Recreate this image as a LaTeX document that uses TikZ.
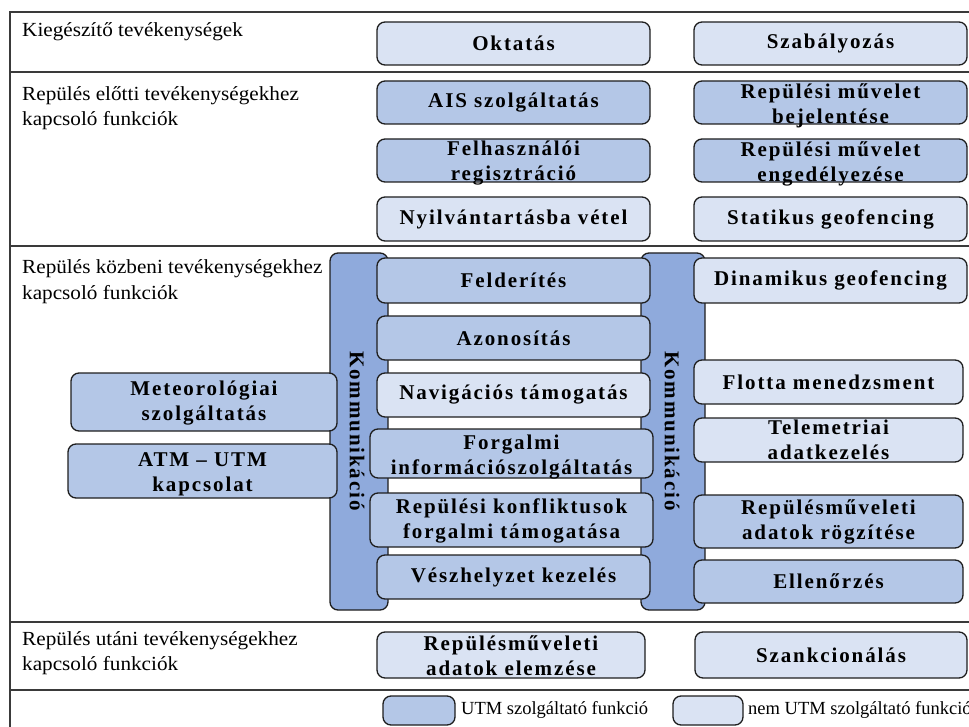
\documentclass[tikz,border=0pt]{standalone}
\usepackage{fontspec}
\setmainfont{Liberation Serif}
\newfontfamily\boxfont{Liberation Serif}[LetterSpace=9, Ligatures=TeX]
\newfontfamily\labelfont{Liberation Serif}[FakeStretch=1.06]

\definecolor{lightfill}{HTML}{DAE3F3}
\definecolor{midfill}{HTML}{B4C7E7}
\definecolor{barfill}{HTML}{8FAADC}
\definecolor{boxline}{HTML}{1E1E1E}
\definecolor{frameline}{HTML}{3A3A3A}

\tikzset{
  fnbase/.style={draw=boxline, line width=1.3pt, rounded corners=8pt, inner sep=0pt},
  utm/.style={fnbase, fill=midfill},
  nonutm/.style={fnbase, fill=lightfill},
  fntext/.style={inner sep=0pt, align=center,
    font=\boxfont\bfseries\fontsize{21}{25}\selectfont},
  commbar/.style={draw=boxline, line width=1.3pt, rounded corners=8pt, fill=barfill, inner sep=0pt},
  commtext/.style={inner sep=0pt, rotate=-90, font=\boxfont\bfseries\fontsize{21}{25}\selectfont},
  rowlabel/.style={anchor=base west, inner sep=0pt, font=\labelfont\fontsize{20}{25}\selectfont},
  legtext/.style={anchor=west, inner sep=0pt, font=\fontsize{18.5}{22}\selectfont},
  sepline/.style={draw=frameline, line width=1.6pt},
}

% box from corner (x1,y1) to (x2,y2), y grows downwards;
% optional first argument moves the caption down by that many points
\newcommand{\fnbox}[8][0]{%
  \node[#3, minimum width={#6-#4}, minimum height={#7-#5}] (#2)
    at ({(#4+#6)/2},{(#5+#7)/2}) {};
  \node[fntext, yshift={-(#1)*1pt}] (#2-t) at (#2.center) {#8};}

\begin{document}
\begin{tikzpicture}[x=1pt, y=-1pt]
\useasboundingbox (0,0) rectangle (969,727);

% frame and section separators
\draw[sepline] (969,12) -- (10,12) -- (10,727);
\foreach \yy in {72,246,622,690}
  \draw[sepline] (10,\yy) -- (969,\yy);

% row labels
\node[rowlabel] (l1)  at (22,37)  {Kiegészítő tevékenységek};
\node[rowlabel] (l2a) at (22,101) {Repülés előtti tevékenységekhez};
\node[rowlabel] (l2b) at (22,126) {kapcsoló funkciók};
\node[rowlabel] (l3a) at (22,274) {Repülés közbeni tevékenységekhez};
\node[rowlabel] (l3b) at (22,299) {kapcsoló funkciók};
\node[rowlabel] (l4a) at (22,645) {Repülés utáni tevékenységekhez};
\node[rowlabel] (l4b) at (22,670) {kapcsoló funkciók};

% supplementary activities
\fnbox{okt}{nonutm}{377}{22}{650}{65}{Oktatás}
\fnbox{szab}{nonutm}{694}{22}{967}{65}{Szabályozás}

% pre-flight functions
\fnbox{ais}{utm}{377}{81}{650}{124}{AIS szolgáltatás}
\fnbox[3]{felh}{utm}{377}{139}{650}{182}{Felhasználói\\regisztráció}
\fnbox{nyil}{nonutm}{377}{197}{650}{241}{Nyilvántartásba vétel}
\fnbox[3]{bej}{utm}{694}{81}{967}{124}{Repülési művelet\\bejelentése}
\fnbox[3]{eng}{utm}{694}{139}{967}{182}{Repülési művelet\\engedélyezése}
\fnbox{stat}{nonutm}{694}{197}{967}{241}{Statikus geofencing}

% communication bars behind the in-flight functions
\node[commbar, minimum width=58, minimum height=357] (kommL) at (359,431.5) {};
\node[commbar, minimum width=64, minimum height=357] (kommR) at (673,431.5) {};

% in-flight functions
\fnbox{feld}{utm}{377}{258}{650}{303}{Felderítés}
\fnbox{azon}{utm}{377}{316}{650}{360}{Azonosítás}
\fnbox{navi}{nonutm}{377}{373}{650}{417}{Navigációs támogatás}
\fnbox[4]{forg}{utm}{370}{429}{653}{478}{Forgalmi\\információszolgáltatás}
\fnbox[1]{konf}{utm}{370}{493}{653}{547}{Repülési konfliktusok\\forgalmi támogatása}
\fnbox{vesz}{utm}{377}{555}{650}{599}{Vészhelyzet kezelés}

\fnbox{dina}{nonutm}{694}{258}{967}{303}{Dinamikus geofencing}
\fnbox{flot}{nonutm}{694}{360}{963}{404}{Flotta menedzsment}
\fnbox{tele}{nonutm}{694}{418}{963}{462}{Telemetriai\\adatkezelés}
\fnbox{rogz}{utm}{694}{495}{963}{548}{Repülésműveleti\\adatok rögzítése}
\fnbox{ellen}{utm}{694}{560}{963}{603}{Ellenőrzés}

\fnbox[1]{meteo}{utm}{71}{373}{337}{431}{Meteorológiai\\szolgáltatás}
\fnbox[3]{atm}{utm}{68}{444}{337}{498}{ATM – UTM\\kapcsolat}

\node[commtext] (kommLtxt) at (357,431) {Kommunikáció};
\node[commtext] (kommRtxt) at (672,431) {Kommunikáció};

% post-flight functions
\fnbox[1]{elem}{nonutm}{377}{632}{645}{678}{Repülésműveleti\\adatok elemzése}
\fnbox{szank}{nonutm}{695}{632}{967}{678}{Szankcionálás}

% legend
\node[utm, minimum width=72, minimum height=29] (leg1) at (419,710.5) {};
\node[legtext] (leg1txt) at (461,710) {UTM szolgáltató funkció};
\node[nonutm, minimum width=70, minimum height=29] (leg2) at (708,710.5) {};
\node[legtext] (leg2txt) at (748,710) {nem UTM szolgáltató funkció};
\end{tikzpicture}
\end{document}
